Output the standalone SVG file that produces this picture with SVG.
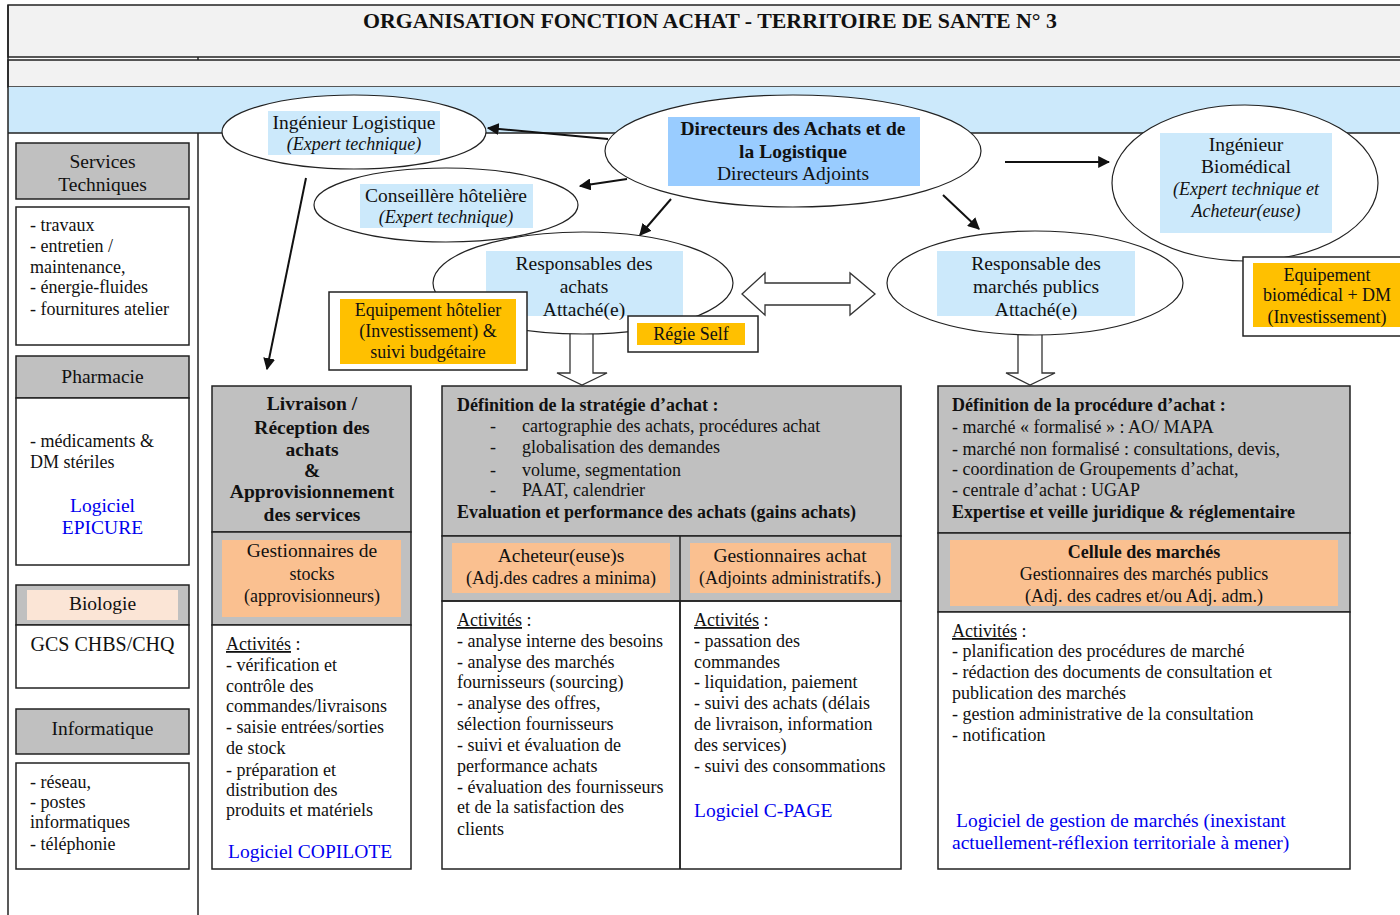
<svg xmlns="http://www.w3.org/2000/svg" width="1400" height="915" viewBox="0 0 1400 915">
<defs>
<style>
text{font-family:"Liberation Serif","Times New Roman",serif;fill:#111;}
.t18{font-size:18px;}
.t19{font-size:19.5px;}
.b{font-weight:bold;}
.i{font-style:italic;}
.c{text-anchor:middle;}
.blue{fill:#0000ee;}
.ln{stroke:#222;stroke-width:1.5;}
.box{stroke:#222;stroke-width:1.5;fill:#ffffff;}
.gray{fill:#c0c0c0;stroke:#222;stroke-width:1.5;}
.peach{fill:#fac090;}
.orange{fill:#ffc000;}
.hl{fill:#cce9fb;}
.dhl{fill:#99ccff;}
.ell{fill:#ffffff;stroke:#222;stroke-width:1.2;}
.conn{stroke:#111;stroke-width:2;fill:none;marker-end:url(#ah);}
.block{fill:#ffffff;stroke:#333;stroke-width:1.3;}
</style>
<marker id="ah" viewBox="0 0 10 10" refX="9" refY="5" markerWidth="6" markerHeight="6" orient="auto" markerUnits="strokeWidth">
<path d="M0,0 L10,5 L0,10 z" fill="#111"/>
</marker>
</defs>

<rect x="0" y="0" width="1400" height="915" fill="#ffffff"/>

<!-- frame / bands -->
<g id="frame">
<rect x="8" y="5" width="1400" height="52" fill="#f2f2f2" class="ln"/>
<rect x="8" y="60" width="1400" height="27" fill="#f2f2f2" class="ln"/>
<rect x="8" y="87" width="1400" height="46" fill="#cce9fb"/>
<line x1="8" y1="133" x2="1400" y2="133" class="ln"/>
<line x1="8" y1="5" x2="8" y2="915" class="ln"/>
<line x1="198" y1="57" x2="198" y2="60" class="ln"/>
<line x1="198" y1="133" x2="198" y2="915" class="ln"/>
<text x="710" y="28" class="c b" font-size="21" textLength="694" lengthAdjust="spacingAndGlyphs">ORGANISATION FONCTION ACHAT - TERRITOIRE DE SANTE N° 3</text>
</g>

<!-- left column -->
<g id="services-techniques">
<rect x="16" y="143" width="173" height="56" class="gray"/>
<text x="102.5" y="168" class="t19 c">Services</text>
<text x="102.5" y="191" class="t19 c">Techniques</text>
</g>
<g id="services-techniques-liste">
<rect x="16" y="207" width="173" height="138" class="box"/>
<text x="30" y="231" class="t18">- travaux</text>
<text x="30" y="252" class="t18">- entretien /</text>
<text x="30" y="273" class="t18">maintenance,</text>
<text x="30" y="293" class="t18">- énergie-fluides</text>
<text x="30" y="315" class="t18">- fournitures atelier</text>
</g>
<g id="pharmacie">
<rect x="16" y="356" width="173" height="42" class="gray"/>
<text x="102.5" y="383" class="t19 c">Pharmacie</text>
<rect x="16" y="398" width="173" height="167" class="box"/>
<text x="30" y="447" class="t18">- médicaments &amp;</text>
<text x="30" y="468" class="t18">DM stériles</text>
<text x="102.5" y="512" class="t19 c blue">Logiciel</text>
<text x="102.5" y="534" class="t19 c blue">EPICURE</text>
</g>
<g id="biologie">
<rect x="16" y="585" width="173" height="40" class="gray"/>
<rect x="27" y="590" width="151" height="30" fill="#fbe5d6"/>
<text x="102.5" y="610" class="t19 c">Biologie</text>
<rect x="16" y="625" width="173" height="63" class="box"/>
<text x="102.5" y="651" class="c" font-size="20">GCS CHBS/CHQ</text>
</g>
<g id="informatique">
<rect x="16" y="709" width="173" height="45" class="gray"/>
<text x="102.5" y="735" class="t19 c">Informatique</text>
<rect x="16" y="763" width="173" height="106" class="box"/>
<text x="30" y="788" class="t18">- réseau,</text>
<text x="30" y="808" class="t18">- postes</text>
<text x="30" y="828" class="t18">informatiques</text>
<text x="30" y="850" class="t18">- téléphonie</text>
</g>

<!-- block arrows -->
<g id="block-arrows">
<polygon class="block" points="570,333 593,333 593,373 607,373 582,385 557,373 570,373"/>
<polygon class="block" points="1018,333 1042,333 1042,373 1055,373 1030,385 1006,373 1018,373"/>
<polygon class="block" points="742,294 765,273 765,283 850,283 850,273 875,294 850,315 850,305 765,305 765,315"/>
</g>

<!-- ellipses -->
<g id="ingenieur-logistique">
<ellipse cx="354" cy="132" rx="132" ry="37" class="ell"/>
<rect x="268" y="111" width="172" height="44" class="hl"/>
<text x="354" y="129" class="t19 c">Ingénieur Logistique</text>
<text x="354" y="150" class="t18 c i">(Expert technique)</text>
</g>
<g id="conseillere-hoteliere">
<ellipse cx="446" cy="205" rx="132" ry="37" class="ell"/>
<rect x="360" y="184" width="173" height="44" class="hl"/>
<text x="446" y="202" class="t19 c">Conseillère hôtelière</text>
<text x="446" y="223" class="t18 c i">(Expert technique)</text>
</g>
<g id="directeurs">
<ellipse cx="793" cy="151" rx="188" ry="56" class="ell"/>
<rect x="668" y="117" width="252" height="69" class="dhl"/>
<text x="793" y="135" class="t19 c b">Directeurs des Achats et de</text>
<text x="793" y="158" class="t19 c b">la Logistique</text>
<text x="793" y="180" class="t19 c">Directeurs Adjoints</text>
</g>
<g id="ingenieur-biomedical">
<ellipse cx="1245" cy="183" rx="133" ry="78" class="ell"/>
<rect x="1160" y="133" width="172" height="100" class="hl"/>
<text x="1246" y="151" class="t19 c">Ingénieur</text>
<text x="1246" y="173" class="t19 c">Biomédical</text>
<text x="1246" y="195" class="t18 c i">(Expert technique et</text>
<text x="1246" y="217" class="t18 c i">Acheteur(euse)</text>
</g>
<g id="responsables-achats">
<ellipse cx="583" cy="283" rx="150" ry="51" class="ell"/>
<rect x="486" y="251" width="197" height="65" class="hl"/>
<text x="584" y="270" class="t19 c">Responsables des</text>
<text x="584" y="293" class="t19 c">achats</text>
<text x="584" y="316" class="t19 c">Attaché(e)</text>
</g>
<g id="responsable-marches">
<ellipse cx="1035" cy="283" rx="148" ry="52" class="ell"/>
<rect x="937" y="251" width="198" height="65" class="hl"/>
<text x="1036" y="270" class="t19 c">Responsable des</text>
<text x="1036" y="293" class="t19 c">marchés publics</text>
<text x="1036" y="316" class="t19 c">Attaché(e)</text>
</g>
<g id="equipement-hotelier">
<rect x="329" y="292" width="198" height="78" class="box"/>
<rect x="340" y="299" width="176" height="65" class="orange"/>
<text x="428" y="316" class="t18 c">Equipement hôtelier</text>
<text x="428" y="337" class="t18 c">(Investissement) &amp;</text>
<text x="428" y="358" class="t18 c">suivi budgétaire</text>
</g>
<g id="regie-self">
<rect x="628" y="316" width="130" height="36" class="box"/>
<rect x="637" y="323" width="108" height="22" class="orange"/>
<text x="691" y="340" class="t18 c">Régie Self</text>
</g>
<g id="equipement-biomedical">
<rect x="1243" y="257" width="170" height="79" class="box"/>
<rect x="1253" y="263" width="150" height="64" class="orange"/>
<text x="1327" y="281" class="t18 c">Equipement</text>
<text x="1327" y="301" class="t18 c">biomédical + DM</text>
<text x="1327" y="323" class="t18 c">(Investissement)</text>
</g>

<!-- connectors -->
<g id="connectors">
<line x1="608" y1="139" x2="488" y2="128" class="conn"/>
<line x1="627" y1="179" x2="580" y2="186" class="conn"/>
<line x1="671" y1="199" x2="640" y2="235" class="conn"/>
<line x1="943" y1="195" x2="979" y2="229" class="conn"/>
<line x1="1005" y1="162" x2="1109" y2="162" class="conn"/>
<line x1="306" y1="178" x2="267" y2="369" class="conn"/>
</g>

<!-- Livraison column -->
<g id="livraison">
<rect x="212" y="386" width="199" height="146" class="gray"/>
<text x="312" y="410" class="t19 c b">Livraison /</text>
<text x="312" y="434" class="t19 c b">Réception des</text>
<text x="312" y="456" class="t19 c b">achats</text>
<text x="312" y="477" class="t19 c b">&amp;</text>
<text x="312" y="498" class="t19 c b">Approvisionnement</text>
<text x="312" y="521" class="t19 c b">des services</text>
<rect x="212" y="532" width="199" height="93" class="gray"/>
<rect x="222" y="540" width="179" height="77" class="peach"/>
<text x="312" y="557" class="t19 c">Gestionnaires de</text>
<text x="312" y="580" class="t18 c">stocks</text>
<text x="312" y="602" class="t18 c">(approvisionneurs)</text>
<rect x="212" y="625" width="199" height="244" class="box"/>
<text x="226" y="650" class="t18"><tspan text-decoration="underline">Activités</tspan> :</text>
<text x="226" y="671" class="t18">- vérification et</text>
<text x="226" y="692" class="t18">contrôle des</text>
<text x="226" y="712" class="t18">commandes/livraisons</text>
<text x="226" y="733" class="t18">- saisie entrées/sorties</text>
<text x="226" y="754" class="t18">de stock</text>
<text x="226" y="776" class="t18">- préparation et</text>
<text x="226" y="796" class="t18">distribution des</text>
<text x="226" y="816" class="t18">produits et matériels</text>
<text x="228" y="858" class="t19 blue">Logiciel COPILOTE</text>
</g>

<!-- Strategy column -->
<g id="strategie">
<rect x="442" y="386" width="459" height="150" class="gray"/>
<text x="457" y="411" class="t18 b">Définition de la stratégie d’achat :</text>
<text x="490" y="432" class="t18">-</text><text x="522" y="432" class="t18">cartographie des achats, procédures achat</text>
<text x="490" y="453" class="t18">-</text><text x="522" y="453" class="t18">globalisation des demandes</text>
<text x="490" y="476" class="t18">-</text><text x="522" y="476" class="t18">volume, segmentation</text>
<text x="490" y="496" class="t18">-</text><text x="522" y="496" class="t18">PAAT, calendrier</text>
<text x="457" y="518" class="t18 b">Evaluation et performance des achats (gains achats)</text>
<rect x="442" y="536" width="459" height="65" class="gray"/>
<line x1="680" y1="536" x2="680" y2="869" class="ln"/>
<rect x="452" y="543" width="218" height="50" class="peach"/>
<text x="561" y="562" class="t19 c">Acheteur(euse)s</text>
<text x="561" y="584" class="t18 c">(Adj.des cadres a minima)</text>
<rect x="690" y="543" width="201" height="50" class="peach"/>
<text x="790" y="562" class="t19 c">Gestionnaires achat</text>
<text x="790" y="584" class="t18 c">(Adjoints administratifs.)</text>
<rect x="442" y="601" width="459" height="268" fill="none" class="ln"/>
<line x1="680" y1="601" x2="680" y2="869" class="ln"/>
<text x="457" y="626" class="t18"><tspan text-decoration="underline">Activités</tspan> :</text>
<text x="457" y="647" class="t18">- analyse interne des besoins</text>
<text x="457" y="668" class="t18">- analyse des marchés</text>
<text x="457" y="688" class="t18">fournisseurs (sourcing)</text>
<text x="457" y="709" class="t18">- analyse des offres,</text>
<text x="457" y="730" class="t18">sélection fournisseurs</text>
<text x="457" y="751" class="t18">- suivi et évaluation de</text>
<text x="457" y="772" class="t18">performance achats</text>
<text x="457" y="793" class="t18">- évaluation des fournisseurs</text>
<text x="457" y="813" class="t18">et de la satisfaction des</text>
<text x="457" y="835" class="t18">clients</text>
<text x="694" y="626" class="t18"><tspan text-decoration="underline">Activités</tspan> :</text>
<text x="694" y="647" class="t18">- passation des</text>
<text x="694" y="668" class="t18">commandes</text>
<text x="694" y="688" class="t18">- liquidation, paiement</text>
<text x="694" y="709" class="t18">- suivi des achats (délais</text>
<text x="694" y="730" class="t18">de livraison, information</text>
<text x="694" y="751" class="t18">des services)</text>
<text x="694" y="772" class="t18">- suivi des consommations</text>
<text x="694" y="817" class="t19 blue">Logiciel C-PAGE</text>
</g>

<!-- Procedure column -->
<g id="procedure">
<rect x="938" y="386" width="412" height="147" class="gray"/>
<text x="952" y="411" class="t18 b">Définition de la procédure d’achat :</text>
<text x="952" y="433" class="t18">- marché « formalisé » : AO/ MAPA</text>
<text x="952" y="455" class="t18">- marché non formalisé : consultations, devis,</text>
<text x="952" y="475" class="t18">- coordination de Groupements d’achat,</text>
<text x="952" y="496" class="t18">- centrale d’achat : UGAP</text>
<text x="952" y="518" class="t18 b">Expertise et veille juridique &amp; réglementaire</text>
<rect x="938" y="533" width="412" height="79" class="gray"/>
<rect x="950" y="540" width="388" height="66" class="peach"/>
<text x="1144" y="558" class="t18 c b">Cellule des marchés</text>
<text x="1144" y="580" class="t18 c">Gestionnaires des marchés publics</text>
<text x="1144" y="602" class="t18 c">(Adj. des cadres et/ou Adj. adm.)</text>
<rect x="938" y="612" width="412" height="257" class="box"/>
<text x="952" y="637" class="t18"><tspan text-decoration="underline">Activités</tspan> :</text>
<text x="952" y="657" class="t18">- planification des procédures de marché</text>
<text x="952" y="678" class="t18">- rédaction des documents de consultation et</text>
<text x="952" y="699" class="t18">publication des marchés</text>
<text x="952" y="720" class="t18">- gestion administrative de la consultation</text>
<text x="952" y="741" class="t18">- notification</text>
<text x="956" y="827" class="t19 blue">Logiciel de gestion de marchés (inexistant</text>
<text x="952" y="849" class="t19 blue">actuellement-réflexion territoriale à mener)</text>
</g>
</svg>
